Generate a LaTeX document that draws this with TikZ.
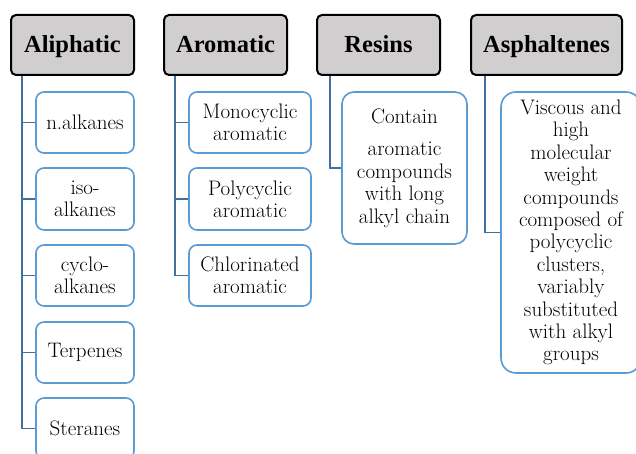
\documentclass[tikz,border=0pt]{standalone}
\usepackage{fontspec}
\newfontfamily\timesfont{Liberation Serif}
\definecolor{hdfill}{HTML}{D0CECE}
\definecolor{itemline}{HTML}{5B9BD5}
\definecolor{linkline}{HTML}{41719C}
\tikzset{
  hdbox/.style={draw=black, line width=2pt, fill=hdfill, rounded corners=5pt,
    minimum width=123pt, minimum height=60pt, inner sep=0pt,
    text height=16pt, text depth=0pt,
    font=\fontsize{24.5}{28}\timesfont\bfseries\selectfont},
  itembox/.style={draw=itemline, line width=1.6pt, fill=white, rounded corners=8pt,
    inner sep=0pt, align=center, text=black,
    font=\fontsize{21}{22.4}\selectfont},
  link/.style={draw=linkline, line width=1.8pt}
}
\begin{document}
\begin{tikzpicture}[x=1pt,y=-1pt]
        \clip (0,0) rectangle (636,454);
        \fill[white] (0,0) rectangle (636,454);
        \node[hdbox] at (72.5,45)     (ali)  {Aliphatic};
        \node[hdbox] at (225.5,45)    (aro)  {Aromatic};
        \node[hdbox] at (378.5,45)    (res)  {Resins};
        \node[hdbox, minimum width=151pt] at (546.5,45) (asp) {Asphaltenes};

        \node[itembox, minimum width=98pt, minimum height=61pt] at (85,122.5)  (nalk)  {n.alkanes};
        \node[itembox, minimum width=98pt, minimum height=62pt] at (85,199)    (iso)   {iso-\\alkanes};
        \node[itembox, minimum width=98pt, minimum height=61pt] at (85,275.5)  (cyc)   {cyclo-\\alkanes};
        \node[itembox, minimum width=98pt, minimum height=61pt] at (85,352.5)  (ter)   {Terpenes};
        \node[itembox, minimum width=98pt, minimum height=61pt] at (85,428.5)  (ste)   {Steranes};

        \node[itembox, minimum width=122pt, minimum height=61pt] at (250,122.5) (mono)  {Monocyclic\\aromatic};
        \node[itembox, minimum width=122pt, minimum height=62pt] at (250,199)   (poly)  {Polycyclic\\aromatic};
        \node[itembox, minimum width=122pt, minimum height=61pt] at (250,275.5) (chlo)  {Chlorinated\\aromatic};

        \node[itembox, rounded corners=12pt, minimum width=125pt, minimum height=152pt] at (404.5,168) (resc)
          {Contain\\[10pt]aromatic\\compounds\\with long\\alkyl chain};
        \node[itembox, rounded corners=15pt, minimum width=140pt, minimum height=281pt] at (571,232.5) (aspc)
          {Viscous and\\high\\molecular\\weight\\compounds\\composed of\\polycyclic\\clusters,\\variably\\substituted\\with alkyl\\groups};

        \draw[link] ([xshift=12pt]ali.south west) |- (nalk.west);
        \draw[link] ([xshift=12pt]ali.south west) |- (iso.west);
        \draw[link] ([xshift=12pt]ali.south west) |- (cyc.west);
        \draw[link] ([xshift=12pt]ali.south west) |- (ter.west);
        \draw[link] ([xshift=12pt]ali.south west) |- (ste.west);
        \draw[link] ([xshift=12pt]aro.south west) |- (mono.west);
        \draw[link] ([xshift=12pt]aro.south west) |- (poly.west);
        \draw[link] ([xshift=12pt]aro.south west) |- (chlo.west);
        \draw[link] ([xshift=14pt]res.south west) |- (resc.west);
        \draw[link] ([xshift=15pt]asp.south west) |- (aspc.west);
    \end{tikzpicture}
\end{document}
